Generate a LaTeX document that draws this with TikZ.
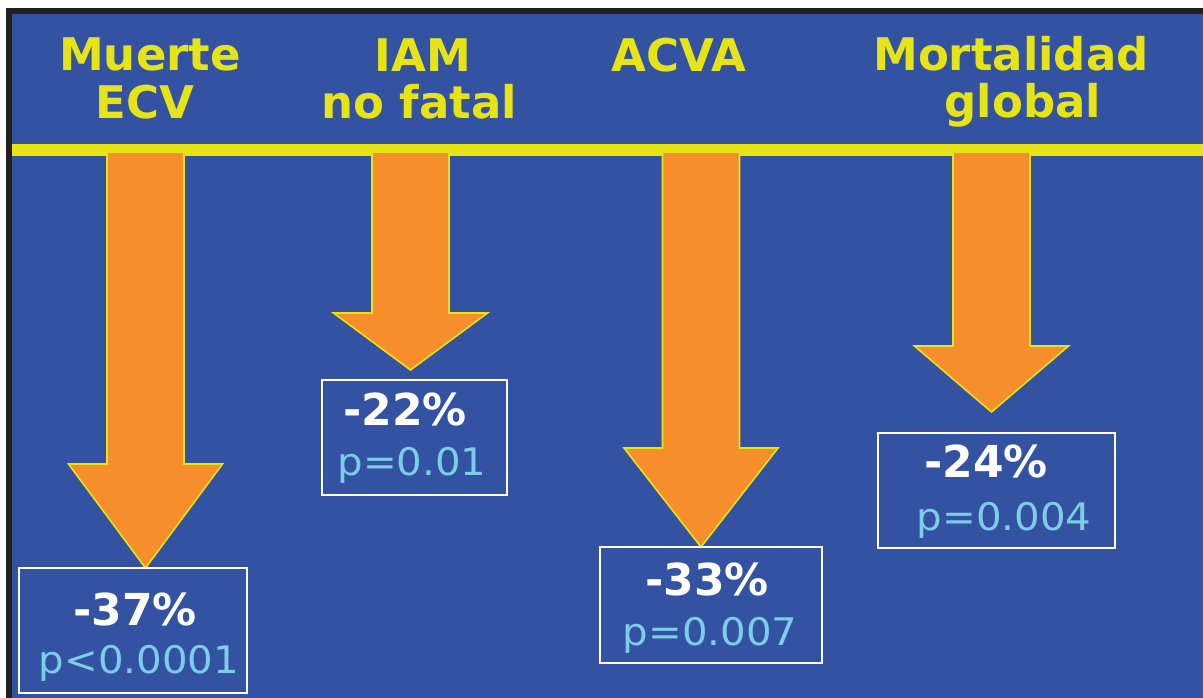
\documentclass[tikz,border=0pt]{standalone}
\usepackage{fontspec}
\setmainfont{DejaVu Sans}
\definecolor{bgblue}{RGB}{52,82,162}
\definecolor{framedark}{RGB}{35,31,32}
\definecolor{lineyellow}{RGB}{230,228,22}
\definecolor{arroworange}{RGB}{246,142,44}
\definecolor{pblue}{RGB}{125,205,232}
\tikzset{
  head/.style={text=lineyellow, font=\fontsize{45}{45}\selectfont\bfseries, inner sep=0pt, anchor=base},
  pct/.style={text=white, font=\fontsize{44}{44}\selectfont\bfseries, inner sep=0pt, anchor=base},
  pval/.style={text=pblue, font=\fontsize{38}{38}\selectfont, inner sep=0pt, anchor=base},
  resbox/.style={draw=white, line width=1.6pt, inner sep=0pt, outer sep=0pt},
  blockarrow/.style={fill=arroworange, draw=lineyellow, line width=1.6pt, line join=miter}
}
\newcommand\blockarr[4]{% #1 centre x, #2 top y, #3 head y, #4 tip y
  \filldraw[blockarrow] (#1-38.5,#2) -- (#1+38.5,#2) -- (#1+38.5,#3) -- (#1+77,#3)
    -- (#1,#4) -- (#1-77,#3) -- (#1-38.5,#3) -- cycle;}
\begin{document}
\begin{tikzpicture}[x=1pt,y=-1pt]
\useasboundingbox (0,0) rectangle (1203,698);
\fill[white] (0,0) rectangle (1203,698);
\fill[framedark] (6,8) rectangle (1203,698);
\fill[bgblue] (12,14) rectangle (1203,698);
\fill[lineyellow] (12,144) rectangle (1203,156);

% headers
\node[head] (h1a) at (150,71) {Muerte};
\node[head] (h1b) at (145,119) {ECV};
\node[head] (h2a) at (423,72) {IAM};
\node[head] (h2b) at (419,119) {no fatal};
\node[head] (h3a) at (679,72) {ACVA};
\node[head] (h4a) at (1011,71) {Mortalidad};
\node[head] (h4b) at (1023,118) {global};

% arrows
\blockarr{145.5}{152}{464}{568}
\blockarr{410.5}{152}{313}{370}
\blockarr{701}{152}{448}{547}
\blockarr{991.5}{152}{346}{412}

% result boxes
\node[resbox, minimum width=228pt, minimum height=125pt] (b1) at (133,630.5) {};
\node[resbox, minimum width=185pt, minimum height=115pt] (b2) at (414.5,437.5) {};
\node[resbox, minimum width=222pt, minimum height=116pt] (b3) at (711,605) {};
\node[resbox, minimum width=237pt, minimum height=115pt] (b4) at (996.5,490.5) {};

\node[pct] (b1p) at (135,625) {-37\%};
\node[pval] (b1v) at (139,673) {\scalebox{1.06}[1]{p<0.0001}};
\node[pct] (b2p) at (405,425) {-22\%};
\node[pval] (b2v) at (412,475) {\scalebox{1.06}[1]{p=0.01}};
\node[pct] (b3p) at (707,595) {-33\%};
\node[pval] (b3v) at (710,645) {\scalebox{1.06}[1]{p=0.007}};
\node[pct] (b4p) at (986,477) {-24\%};
\node[pval] (b4v) at (1004,530) {\scalebox{1.06}[1]{p=0.004}};
\end{tikzpicture}
\end{document}
